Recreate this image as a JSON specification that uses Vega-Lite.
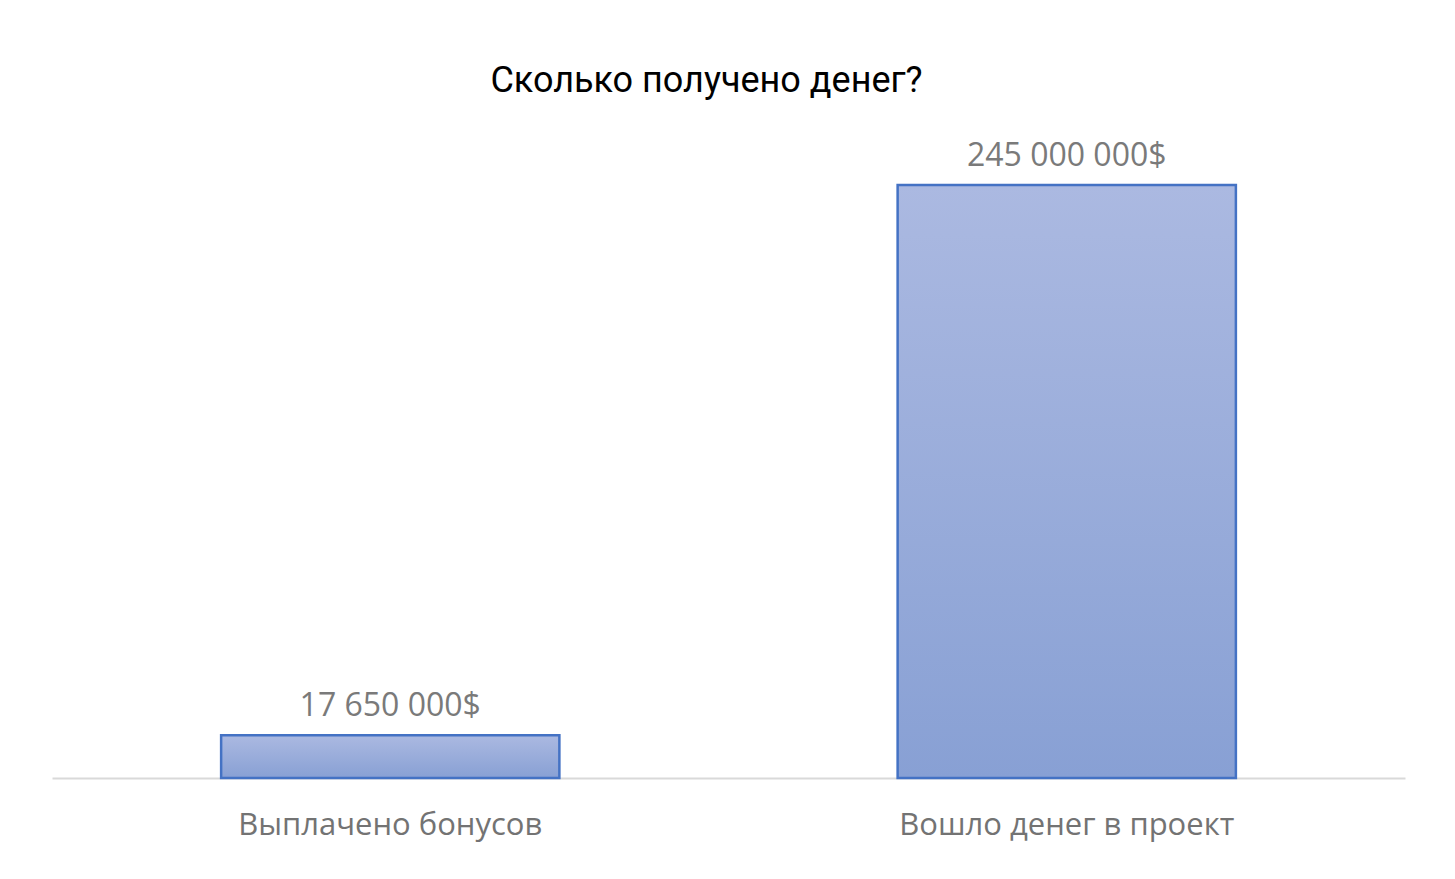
{
  "$schema": "https://vega.github.io/schema/vega-lite/v6.json",
  "width": 1353,
  "height": 605,
  "autosize": {"type": "none"},
  "padding": {"left": 52, "top": 173, "right": 50, "bottom": 101},
  "background": "white",
  "config": {"view": {"stroke": null}, "font": "Open Sans"},
  "title": {
    "text": "Сколько получено денег?",
    "fontSize": 36,
    "fontWeight": "normal",
    "color": "#000000",
    "font": "Roboto",
    "offset": 40,
    "dx": -22
  },
  "data": {
    "values": [
      {"category": "Выплачено бонусов", "value": 17650000, "label": "17 650 000$"},
      {"category": "Вошло денег в проект", "value": 245000000, "label": "245 000 000$"}
    ]
  },
  "encoding": {
    "x": {
      "field": "category",
      "type": "nominal",
      "sort": null,
      "scale": {"paddingInner": 0.5, "paddingOuter": 0.25},
      "axis": {
        "title": null,
        "labelAngle": 0,
        "labelFont": "Open Sans",
        "labelFontSize": 31,
        "labelColor": "#737373",
        "labelPadding": 32,
        "labelLimit": 0,
        "ticks": false,
        "domainColor": "#d9d9d9",
        "domainWidth": 2
      }
    },
    "y": {
      "field": "value",
      "type": "quantitative",
      "scale": {"domain": [0, 250000000]},
      "axis": null
    }
  },
  "layer": [
    {
      "mark": {
        "type": "bar",
        "stroke": "#4472c4",
        "strokeWidth": 2.5,
        "color": {
          "gradient": "linear",
          "x1": 0, "y1": 0, "x2": 0, "y2": 1,
          "stops": [
            {"offset": 0, "color": "#abb9e1"},
            {"offset": 1, "color": "#88a0d4"}
          ]
        }
      }
    },
    {
      "mark": {
        "type": "text",
        "baseline": "bottom",
        "dy": -12,
        "fontSize": 32,
        "font": "Open Sans",
        "color": "#7a7a7a"
      },
      "encoding": {"text": {"field": "label"}}
    }
  ]
}
